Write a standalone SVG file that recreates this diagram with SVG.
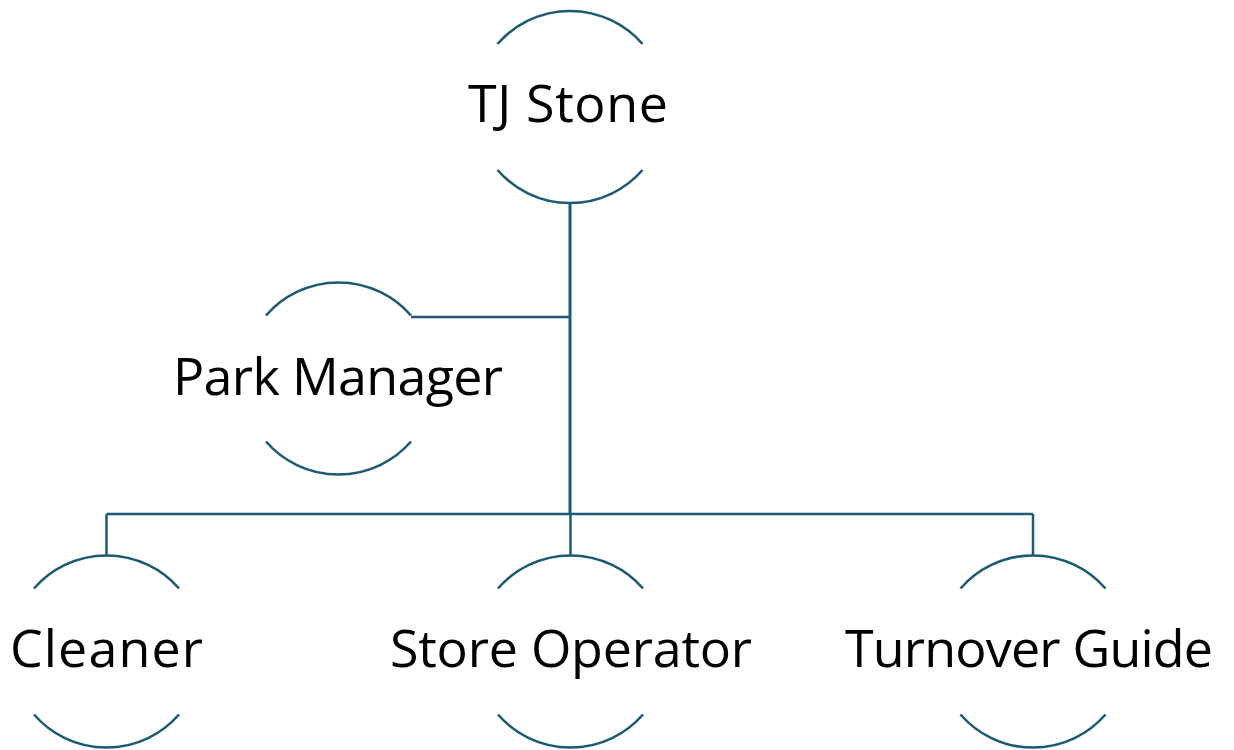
<svg xmlns="http://www.w3.org/2000/svg" width="1234" height="750" viewBox="0 0 1234 750">
  <style>
    .arc { fill: none; stroke: #1d5a76; stroke-width: 2.6; }
    .conn { fill: none; stroke: #1d5a76; stroke-width: 2.5; }
    .trunk { stroke-width: 3; }
    .label { font-family: "Open Sans", "Liberation Sans", sans-serif; font-size: 52px; fill: #000; text-anchor: middle; }
  </style>
  <rect width="1234" height="750" fill="#ffffff"/>

  <!-- connectors -->
  <g id="connectors">
    <path class="conn trunk" d="M570 203 V514"/>
    <path class="conn" d="M411 317 H570"/>
    <path class="conn" d="M106.5 514 H1033"/>
    <path class="conn" d="M106.5 514 V555.5"/>
    <path class="conn" d="M570.5 514 V555.5"/>
    <path class="conn" d="M1033 514 V555.5"/>
  </g>

  <!-- nodes: open circles drawn as a top arc and a bottom arc -->
  <g id="node-tj-stone">
    <path class="arc" d="M497.5 44 A96 96 0 0 1 642.5 44"/>
    <path class="arc" d="M497.5 170 A96 96 0 0 0 642.5 170"/>
    <text class="label" x="568" y="122" textLength="200">TJ Stone</text>
  </g>

  <g id="node-park-manager">
    <path class="arc" d="M266 315.5 A96 96 0 0 1 411 315.5"/>
    <path class="arc" d="M266 441.5 A96 96 0 0 0 411 441.5"/>
    <text class="label" x="338" y="395" textLength="330">Park Manager</text>
  </g>

  <g id="node-cleaner">
    <path class="arc" d="M34 588.5 A96 96 0 0 1 179 588.5"/>
    <path class="arc" d="M34 714.5 A96 96 0 0 0 179 714.5"/>
    <text class="label" x="106.5" y="667" textLength="193">Cleaner</text>
  </g>

  <g id="node-store-operator">
    <path class="arc" d="M498 588.5 A96 96 0 0 1 643 588.5"/>
    <path class="arc" d="M498 714.5 A96 96 0 0 0 643 714.5"/>
    <text class="label" x="571" y="667" textLength="362">Store Operator</text>
  </g>

  <g id="node-turnover-guide">
    <path class="arc" d="M960.5 588.5 A96 96 0 0 1 1105.5 588.5"/>
    <path class="arc" d="M960.5 714.5 A96 96 0 0 0 1105.5 714.5"/>
    <text class="label" x="1029" y="667" textLength="368">Turnover Guide</text>
  </g>
</svg>
